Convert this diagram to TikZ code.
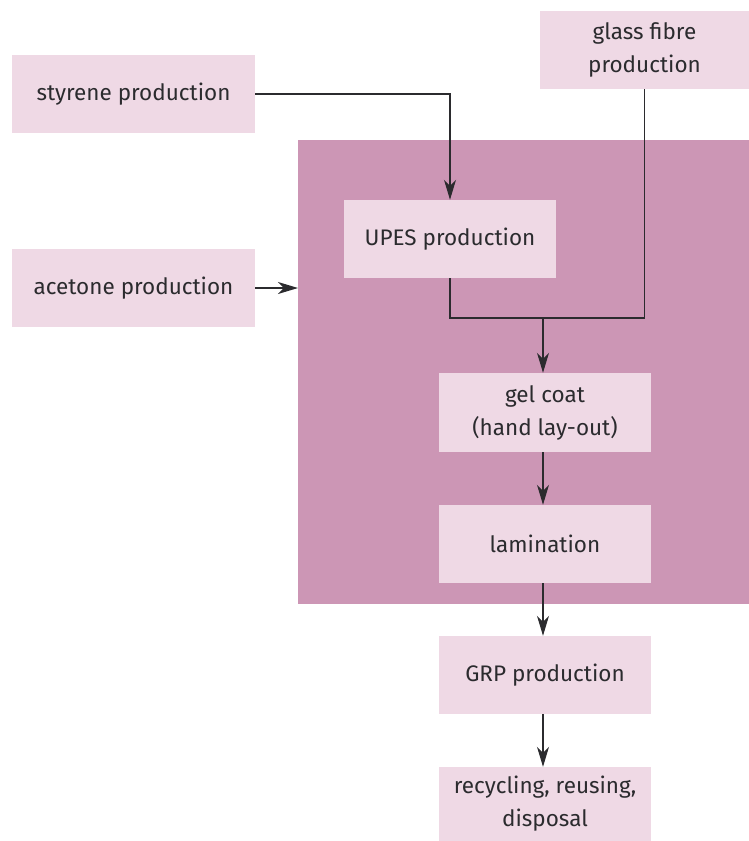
\documentclass[tikz,border=0pt]{standalone}
\usepackage{fontspec}
\setmainfont{Fira Sans}
\usetikzlibrary{arrows.meta}
\definecolor{boxpink}{HTML}{EFD9E5}
\definecolor{bigpink}{HTML}{CC96B5}
\definecolor{linegray}{HTML}{2B2B2E}
\begin{document}
\begin{tikzpicture}[x=1pt,y=-1pt,
  pbox/.style={fill=boxpink, draw=none, inner sep=0pt, align=center, font=\fontsize{22.5}{33}\selectfont\color{linegray}},
  conn/.style={draw=linegray, line width=1.3pt},
  arr/.style={conn, -{Stealth[length=20pt,width=12pt,inset=6pt]}}]
\useasboundingbox (0,0) rectangle (749,841);
\fill[bigpink] (298,140) rectangle (749,604);
\node[pbox, minimum width=243pt, minimum height=78pt] (sty) at (133.5,94) {styrene production};
\node[pbox, minimum width=209pt, minimum height=78pt] (glass) at (644.5,50) {glass fibre\\production};
\node[pbox, minimum width=243pt, minimum height=78pt] (ace) at (133.5,288) {acetone production};
\node[pbox, minimum width=212pt, minimum height=78pt] (upes) at (450,239) {UPES production};
\node[pbox, minimum width=212pt, minimum height=79pt] (gel) at (545,412.5) {gel coat\\(hand lay-out)};
\node[pbox, minimum width=212pt, minimum height=78pt] (lam) at (545,544) {lamination};
\node[pbox, minimum width=212pt, minimum height=78pt] (grp) at (545,675) {GRP production};
\node[pbox, minimum width=212pt, minimum height=74pt] (rec) at (545,804) {recycling, reusing,\\disposal};
\coordinate (big) at (298,288);
\coordinate (join) at (543,318);
\draw[arr] (sty.east) -| (upes.north);
\draw[arr] (ace.east) -- (big);
\draw[conn] (upes.south) |- (join) -| (glass.south);
\draw[arr] (join) -- (gel.north -| join);
\draw[arr] (gel.south -| join) -- (lam.north -| join);
\draw[arr] (lam.south -| join) -- (grp.north -| join);
\draw[arr] (grp.south -| join) -- (rec.north -| join);
\end{tikzpicture}
\end{document}
